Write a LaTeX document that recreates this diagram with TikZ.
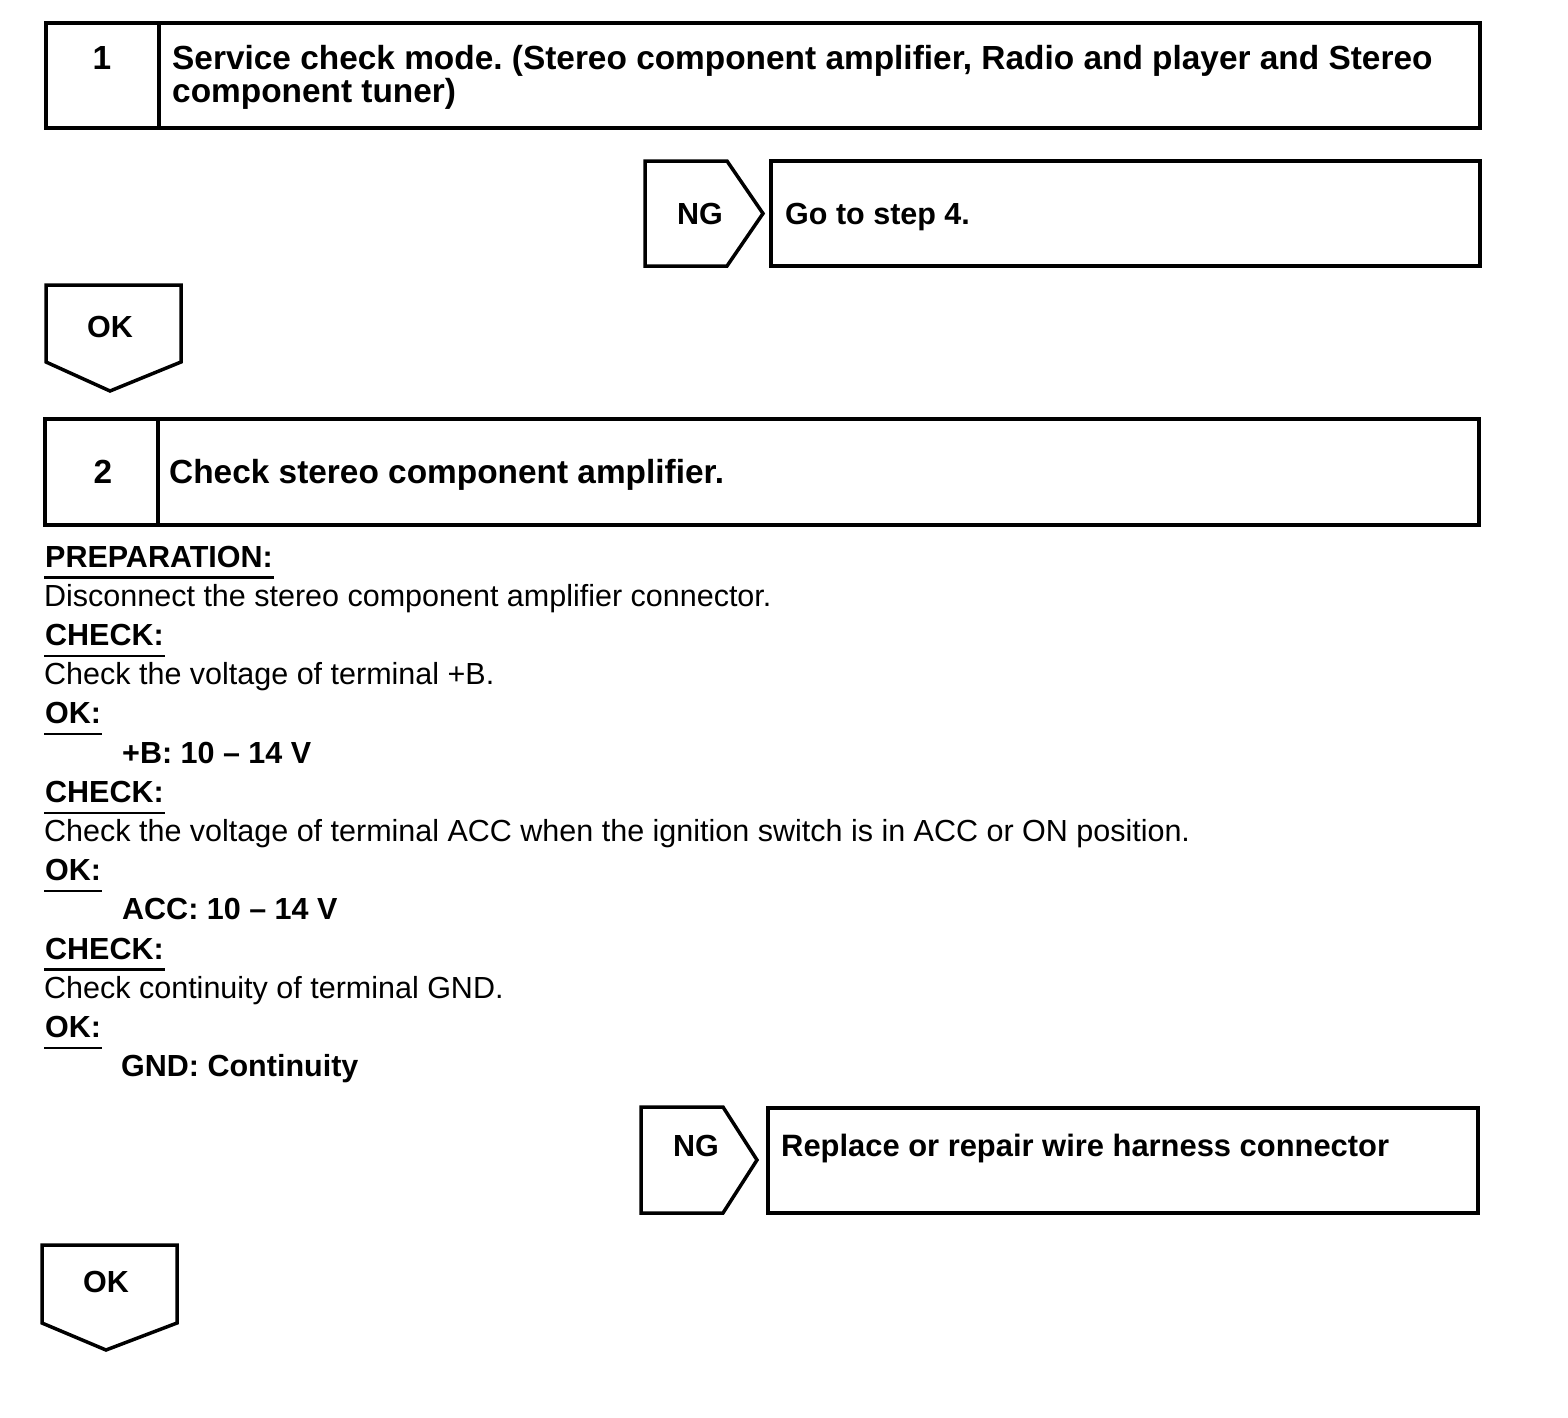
\documentclass[tikz,border=0pt]{standalone}
\usepackage{fontspec}
\setmainfont{Liberation Sans}
\frenchspacing
\begin{document}
\begin{tikzpicture}[x=1pt,y=-1pt,
  box/.style={draw,line width=3.5pt,line join=miter},
  frame/.style={box,rectangle,inner sep=0pt,outer sep=0pt,anchor=north west},
  stepfont/.style={font=\fontsize{33.4}{33}\selectfont\bfseries,inner sep=0pt},
  ngfont/.style={font=\fontsize{30.5}{33}\selectfont\bfseries,inner sep=0pt},
  body/.style={font=\fontsize{30.5}{36}\selectfont,inner sep=0pt,anchor=base west},
  bodyb/.style={font=\fontsize{30.5}{36}\selectfont\bfseries,inner sep=0pt,anchor=base west},
  ul/.style={line width=2.2pt}]
\useasboundingbox (0,0) rectangle (1568,1418);

% ---- step 1
\node[frame,minimum width=1434pt,minimum height=105pt] (s1) at (46,23) {};
\draw[box] (159,23) -- (159,128);
\node[stepfont,anchor=base] (n1) at (102,70) {1};
\node[stepfont,anchor=base west] (s1a) at (172,70) {Service check mode. (Stereo component amplifier, Radio and player and Stereo};
\node[stepfont,anchor=base west] (s1b) at (172,103) {component tuner)};

% ---- NG 1
\draw[box] (645,161) -- (727,161) -- (763,213.5) -- (727,266) -- (645,266) -- cycle;
\node[ngfont,anchor=base] (ng1) at (700,224) {NG};
\node[frame,minimum width=709pt,minimum height=105pt] (g1) at (771,161) {};
\node[ngfont,anchor=base west] (g1t) at (785,224) {Go to step 4.};

% ---- OK 1
\draw[box] (46,285) -- (181,285) -- (181,362) -- (110,391) -- (46,362) -- cycle;
\node[ngfont,anchor=base] (ok1) at (110,337) {OK};

% ---- step 2
\node[frame,minimum width=1434pt,minimum height=106pt] (s2) at (45,419) {};
\draw[box] (158,419) -- (158,525);
\node[stepfont,anchor=base] (n2) at (103,483) {2};
\node[stepfont,anchor=base west] (s2a) at (169,483) {Check stereo component amplifier.};

% ---- body text
\node[bodyb] (h1) at (45,567) {PREPARATION:};
\node[body] (t1) at (44,606.2) {Disconnect the stereo component amplifier connector.};
\node[bodyb] (h2) at (45,645.4) {CHECK:};
\node[body] (t2) at (44,684.6) {Check the voltage of terminal +B.};
\node[bodyb] (h3) at (45,723.8) {OK:};
\node[bodyb] (v1) at (122,763) {+B: 10 -- 14 V};
\node[bodyb] (h4) at (45,802.2) {CHECK:};
\node[body] (t3) at (44,841.4) {Check the voltage of terminal ACC when the ignition switch is in ACC or ON position.};
\node[bodyb] (h5) at (45,880.6) {OK:};
\node[bodyb] (v2) at (122,919.8) {ACC: 10 -- 14 V};
\node[bodyb] (h6) at (45,959) {CHECK:};
\node[body] (t4) at (44,998.2) {Check continuity of terminal GND.};
\node[bodyb] (h7) at (45,1037.4) {OK:};
\node[bodyb] (v3) at (121,1076.6) {GND: Continuity};
\foreach \h in {h1,h2,h3,h4,h5,h6,h7}
  \draw[ul] ([yshift=-10.5pt,xshift=-1pt]\h.base west) -- ([yshift=-10.5pt,xshift=1pt]\h.base east);

% ---- NG 2
\draw[box] (641,1107) -- (723,1107) -- (757,1160) -- (723,1213) -- (641,1213) -- cycle;
\node[ngfont,anchor=base] (ng2) at (696,1156) {NG};
\node[frame,minimum width=710pt,minimum height=105pt] (r2) at (768,1108) {};
\node[ngfont,anchor=base west,font=\fontsize{30.9}{33}\selectfont\bfseries] (r2t) at (781,1156) {Replace or repair wire harness connector};

% ---- OK 2
\draw[box] (42,1245) -- (177,1245) -- (177,1323) -- (106,1350) -- (42,1323) -- cycle;
\node[ngfont,anchor=base] (ok2) at (106,1292) {OK};
\end{tikzpicture}
\end{document}
